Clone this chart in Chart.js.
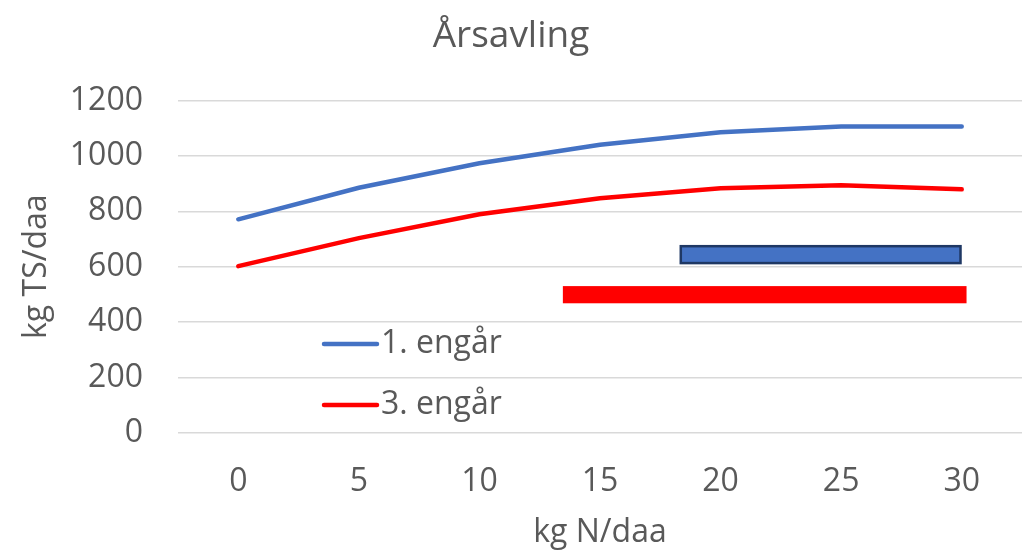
<!DOCTYPE html>
<html>
<head>
<meta charset="utf-8">
<script src="https://cdn.jsdelivr.net/npm/chart.js@4"></script>
<style>
  html, body { margin: 0; padding: 0; background: #fff; }
  #wrap { width: 1030px; height: 554px; }
</style>
</head>
<body>
<div id="wrap"><canvas id="aarChart"></canvas></div>
<script>
// data
const kgN = ["0", "5", "10", "15", "20", "25", "30"];
const engaar1 = [771, 885, 973, 1040, 1085, 1106, 1106];
const engaar3 = [602, 703, 789, 847, 883, 894, 879];
const yTicks = [0, 200, 400, 600, 800, 1000, 1200];
// the two horizontal boxes: [x from, x to] in kg N, [y from, y to] in kg TS
const blueBoxX = [18.35, 29.95];
const blueBoxY = [613, 674];
const redBoxX = [13.46, 30.2];
const redBoxY = [468, 530];

const textColor = '#595959';
const font = "'Open Sans', 'Noto Sans', sans-serif";

// boxes + legend inside the plot
const extras = {
    id: 'extras',
    beforeDatasetsDraw(chart) {
        const ctx = chart.ctx;
        const x = chart.scales.x, y = chart.scales.y;
        const box = (xs, ys, fill, stroke) => {
            const x1 = x.getPixelForValue(xs[0] / 5), x2 = x.getPixelForValue(xs[1] / 5);
            const y1 = y.getPixelForValue(ys[1]), y2 = y.getPixelForValue(ys[0]);
            ctx.save();
            ctx.fillStyle = fill;
            ctx.fillRect(x1, y1, x2 - x1, y2 - y1);
            if (stroke) {
                ctx.strokeStyle = stroke;
                ctx.lineWidth = 2.5;
                ctx.strokeRect(x1, y1, x2 - x1, y2 - y1);
            }
            ctx.restore();
        };
        box(blueBoxX, blueBoxY, '#4472C4', '#1F3864');
        box(redBoxX, redBoxY, '#FF0000', null);
    },
    afterDatasetsDraw(chart) {
        const ctx = chart.ctx;
        const rows = [344, 405];
        ctx.save();
        chart.data.datasets.forEach((ds, i) => {
            ctx.strokeStyle = ds.borderColor;
            ctx.lineWidth = 4.5;
            ctx.lineCap = 'round';
            ctx.beginPath();
            ctx.moveTo(324, rows[i]);
            ctx.lineTo(377, rows[i]);
            ctx.stroke();
            ctx.fillStyle = textColor;
            ctx.font = "32px " + font;
            ctx.textBaseline = 'middle';
            ctx.fillText(ds.label, 381, rows[i]);
        });
        ctx.restore();
    }
};

new Chart(document.getElementById('aarChart'), {
    type: 'line',
    data: {
        labels: kgN,
        datasets: [
            {
                label: '1. engår',
                data: engaar1,
                borderColor: '#4472C4',
                borderWidth: 4.5,
                borderCapStyle: 'round',
                pointRadius: 0,
                tension: 0
            },
            {
                label: '3. engår',
                data: engaar3,
                borderColor: '#FF0000',
                borderWidth: 4.5,
                borderCapStyle: 'round',
                pointRadius: 0,
                tension: 0
            }
        ]
    },
    options: {
        responsive: true,
        maintainAspectRatio: false,
        animation: false,
        layout: { padding: { top: 0, right: 8, bottom: 0, left: 0 } },
        plugins: {
            legend: { display: false },
            tooltip: { enabled: false },
            title: {
                display: true,
                text: 'Årsavling',
                color: textColor,
                font: { family: font, size: 37, weight: 'normal' },
                padding: { top: 14, bottom: 42 }
            }
        },
        scales: {
            x: {
                offset: true,
                grid: { display: false, drawTicks: false },
                border: { display: false },
                ticks: { color: textColor, font: { family: font, size: 32 }, padding: 30, maxRotation: 0 },
                title: {
                    display: true,
                    text: 'kg N/daa',
                    color: textColor,
                    font: { family: font, size: 32 },
                    padding: { top: 0, bottom: 2 }
                },
                afterFit(scale) { scale.height = 121; }
            },
            y: {
                min: 0,
                max: 1200,
                afterBuildTicks(scale) { scale.ticks = yTicks.map(v => ({ value: v })); },
                grid: { color: '#D9D9D9', lineWidth: 1.5, drawTicks: false },
                border: { display: false },
                ticks: {
                    color: textColor,
                    font: { family: font, size: 32 },
                    padding: 35,
                    callback: (v) => String(v)
                },
                title: {
                    display: true,
                    text: 'kg TS/daa',
                    color: textColor,
                    font: { family: font, size: 32 },
                    padding: { top: 18, bottom: 0 }
                },
                afterFit(scale) { scale.width = 178; }
            }
        }
    },
    plugins: [extras]
});
</script>
</body>
</html>
